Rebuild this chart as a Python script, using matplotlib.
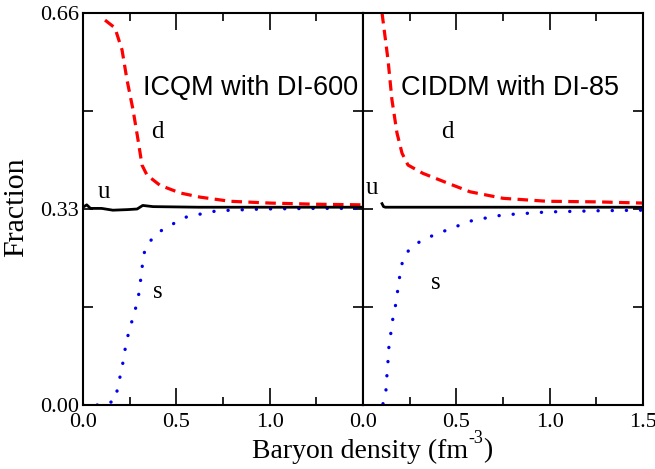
import matplotlib
matplotlib.use("Agg")
import matplotlib.pyplot as plt
from matplotlib.ticker import MultipleLocator, FixedLocator
from matplotlib.transforms import offset_copy

# ---- data: left panel (ICQM with DI-600) ----
icqm_d_x = [0.118, 0.171, 0.209, 0.236, 0.268, 0.295, 0.316, 0.343, 0.412, 0.52, 0.627, 0.787, 1.0, 1.25, 1.5]
icqm_d_y = [0.648, 0.635, 0.598, 0.547, 0.497, 0.446, 0.404, 0.387, 0.370, 0.357, 0.350, 0.343, 0.340, 0.338, 0.337]
icqm_u_x = [0.0, 0.02, 0.04, 0.1, 0.16, 0.24, 0.29, 0.32, 0.375, 0.62, 1.0, 1.5]
icqm_u_y = [0.333, 0.337, 0.331, 0.331, 0.328, 0.329, 0.330, 0.336, 0.334, 0.333, 0.333, 0.333]
icqm_s_x = [0.0, 0.1, 0.171, 0.188, 0.204, 0.22, 0.23, 0.252, 0.273, 0.295, 0.305, 0.316, 0.321,
            0.348, 0.386, 0.439, 0.557, 0.718, 0.964, 1.25, 1.5]
icqm_s_y = [0.0, 0.0, 0.007, 0.032, 0.056, 0.081, 0.104, 0.130, 0.153, 0.178, 0.202, 0.227, 0.251,
            0.271, 0.286, 0.298, 0.317, 0.327, 0.330, 0.331, 0.331]

# ---- data: right panel (CIDDM with DI-85) ----
ciddm_d_x = [0.102, 0.134, 0.155, 0.182, 0.209, 0.241, 0.321, 0.45, 0.573, 0.75, 0.985, 1.253, 1.495]
ciddm_d_y = [0.660, 0.581, 0.514, 0.458, 0.424, 0.404, 0.390, 0.374, 0.359, 0.348, 0.343, 0.342, 0.340]
ciddm_u_x = [0.102, 0.11, 0.12, 0.5, 1.0, 1.5]
ciddm_u_y = [0.339, 0.334, 0.333, 0.333, 0.333, 0.333]
ciddm_s_x = [0.107, 0.123, 0.128, 0.134, 0.139, 0.15, 0.161, 0.177, 0.193, 0.214, 0.257, 0.332,
             0.412, 0.477, 0.589, 0.75, 0.985, 1.253, 1.5]
ciddm_s_y = [0.002, 0.025, 0.049, 0.074, 0.099, 0.123, 0.148, 0.172, 0.210, 0.246, 0.266, 0.280,
             0.290, 0.298, 0.311, 0.320, 0.325, 0.327, 0.328]

x_ticks = [0.0, 0.5, 1.0, 1.5]
x_ticklabels_left = ["0.0", "0.5", "1.0", ""]
x_ticklabels_right = ["0.0", "0.5", "1.0", "1.5"]
y_ticks = [0.0, 0.33, 0.66]
y_ticklabels = ["0.00", "0.33", "0.66"]

serif = ["Liberation Serif", "DejaVu Serif"]
sans = ["Liberation Sans", "DejaVu Sans"]

fig = plt.figure(figsize=(6.55, 4.69), dpi=100)
W, H = 655, 469
axL = fig.add_axes([83 / W, (H - 405) / H, 280 / W, 392 / H])
axR = fig.add_axes([363 / W, (H - 405) / H, 280 / W, 392 / H])

red_kw = dict(color="#ff0000", lw=2.3, linestyle=(0, (3.3, 2.0)))
blue_kw = dict(color="#0000ee", lw=2.4, linestyle=(0, (0.05, 4.2)), dash_capstyle="round")
black_kw = dict(color="black", lw=2.0)

axL.plot(icqm_d_x, icqm_d_y, **red_kw)
axL.plot(icqm_s_x, icqm_s_y, **blue_kw)
axL.plot(icqm_u_x, icqm_u_y, **black_kw)

axR.plot(ciddm_d_x, ciddm_d_y, **red_kw)
axR.plot(ciddm_s_x, ciddm_s_y, **blue_kw)
axR.plot(ciddm_u_x, ciddm_u_y, **black_kw)

for ax, labels in ((axL, x_ticklabels_left), (axR, x_ticklabels_right)):
    ax.set_xlim(0, 1.5)
    ax.set_ylim(0, 0.66)
    ax.xaxis.set_major_locator(FixedLocator(x_ticks))
    ax.set_xticklabels(labels)
    ax.xaxis.set_minor_locator(MultipleLocator(0.25))
    ax.yaxis.set_major_locator(FixedLocator(y_ticks))
    ax.yaxis.set_minor_locator(FixedLocator([0.165, 0.495]))
    ax.tick_params(axis="both", which="both", direction="in", top=True, right=True,
                   width=1.2, colors="black")
    ax.tick_params(axis="x", which="major", length=12, pad=6)
    ax.tick_params(axis="x", which="minor", length=6)
    ax.tick_params(axis="y", which="major", length=7, pad=3)
    ax.tick_params(axis="y", which="minor", length=7)
    for sp in ax.spines.values():
        sp.set_linewidth(1.5)
    for lab in ax.get_xticklabels() + ax.get_yticklabels():
        lab.set_fontfamily(serif)
        lab.set_fontsize(16)

axL.set_yticklabels(y_ticklabels)
for lab in axL.get_yticklabels():
    lab.set_fontfamily(serif)
    lab.set_fontsize(16)
axR.set_yticklabels([])

fig.text(16 / W, (H - 207) / H, "Fraction", fontsize=21.5, family=serif,
         rotation=90, ha="center", va="center")

# x label with a small raised "-3"
fig.canvas.draw()
renderer = fig.canvas.get_renderer()
t1 = fig.text(252 / W, 18 / H, "Baryon density (fm", fontsize=20, family=serif,
              ha="left", va="center")
bb1 = t1.get_window_extent(renderer)
t2 = fig.text(bb1.x1 / W, (18 + 13) / H, "-3", fontsize=13, family=serif,
              ha="left", va="center")
bb2 = t2.get_window_extent(renderer)
fig.text(bb2.x1 / W, 18 / H, ")", fontsize=20, family=serif, ha="left", va="center")

axL.text(0.895, 0.534, "ICQM with DI-600", fontsize=19.5, family=sans, ha="center", va="center")
axR.text(0.79, 0.534, "CIDDM with DI-85", fontsize=19.5, family=sans, ha="center", va="center")

axL.text(0.40, 0.46, "d", fontsize=18, family=serif, ha="center", va="center")
axL.text(0.11, 0.358, "u", fontsize=18, family=serif, ha="center", va="center")
axL.text(0.40, 0.19, "s", fontsize=18, family=serif, ha="center", va="center")
axR.text(0.45, 0.46, "d", fontsize=18, family=serif, ha="center", va="center")
axR.text(0.05, 0.365, "u", fontsize=18, family=serif, ha="center", va="center")
axR.text(0.39, 0.205, "s", fontsize=18, family=serif, ha="center", va="center")

fig.savefig("out.png", dpi=100)
